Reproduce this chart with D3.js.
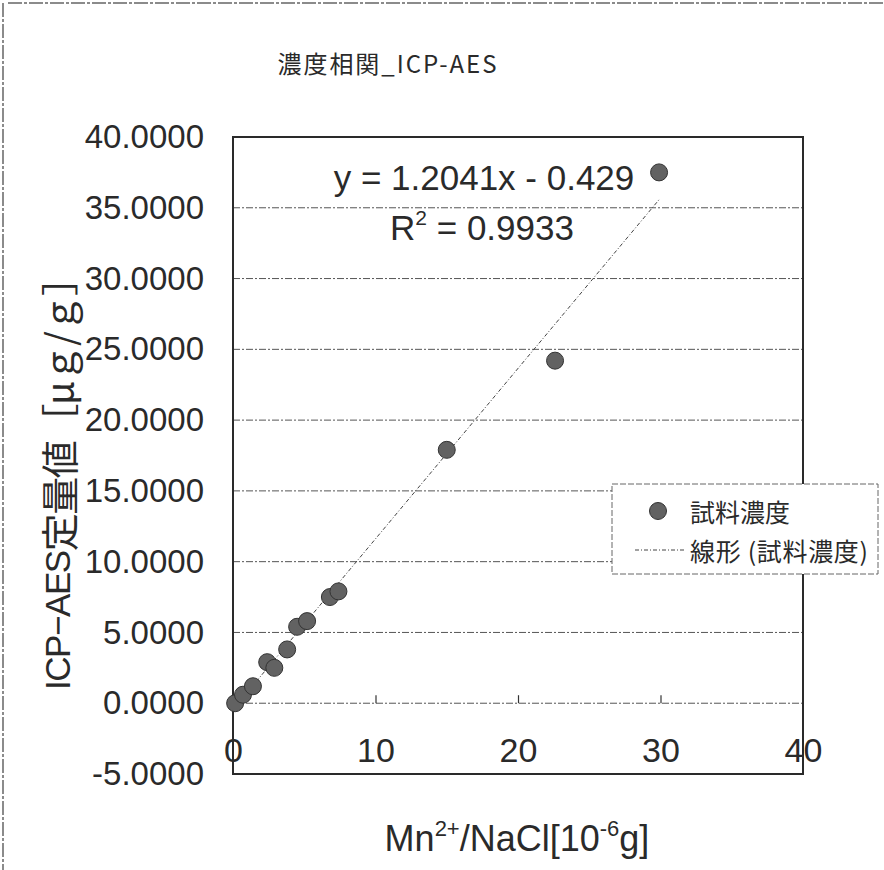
<!DOCTYPE html>
<html>
<head>
<meta charset="utf-8">
<script src="https://cdn.jsdelivr.net/npm/d3@7"></script>
<style>
  body { margin: 0; background: #fff; }
  text { fill: #2a2a2a; }
</style>
</head>
<body>
<div id="chart"></div>
<script>
// sample points
var xVals = [0.15, 0.7, 1.4, 2.4, 2.9, 3.8, 4.5, 5.2, 6.8, 7.4, 15.0, 22.6, 29.9];
var yVals = [0.0, 0.6, 1.2, 2.9, 2.5, 3.8, 5.4, 5.8, 7.5, 7.9, 17.9, 24.2, 37.5];
// linear trendline as printed on the chart
var slope = 1.2041, intercept = -0.429;
var eqText = "y = 1.2041x - 0.429";
var r2Text = "0.9933";
var yTicks = [-5, 0, 5, 10, 15, 20, 25, 30, 35, 40];
var xTicks = [0, 10, 20, 30, 40];
var seriesName = "試料濃度";
var trendName = "線形 (試料濃度)";

var W = 884, H = 870;
var margin = {top: 137, right: 81, bottom: 96, left: 233};
var width = W - margin.left - margin.right,
    height = H - margin.top - margin.bottom;

var latin = "'Liberation Sans', Arial, sans-serif";
var cjk = "'Noto Sans CJK JP', 'Liberation Sans', sans-serif";

var root = d3.select("#chart").append("svg")
    .attr("width", W)
    .attr("height", H);

// scanned page edge (top and left)
root.append("line")
    .attr("x1", 8).attr("y1", 3).attr("x2", W).attr("y2", 3)
    .style("stroke", "#666").style("stroke-width", 1.5)
    .style("stroke-dasharray", "14,2,3,2");
root.append("line")
    .attr("x1", 3).attr("y1", 3).attr("x2", 3).attr("y2", H)
    .style("stroke", "#666").style("stroke-width", 1.5)
    .style("stroke-dasharray", "14,2,3,2");

// title
root.append("text")
    .attr("x", 387).attr("y", 62)
    .attr("text-anchor", "middle")
    .attr("dominant-baseline", "central")
    .attr("textLength", 219)
    .style("font-family", cjk)
    .style("font-size", "24px")
    .text("濃度相関_ICP-AES");

var svg = root.append("g")
    .attr("transform", "translate(" + margin.left + "," + margin.top + ")");

var x = d3.scaleLinear().domain([0, 40]).range([0, width]);
var y = d3.scaleLinear().domain([-5, 40]).range([height, 0]);

// grid lines (dash-dot)
svg.append("g")
    .selectAll("line")
    .data(yTicks.filter(function (d) { return d > -5 && d < 40; }))
    .enter()
    .append("line")
    .attr("x1", 0).attr("x2", width)
    .attr("y1", function (d) { return y(d); })
    .attr("y2", function (d) { return y(d); })
    .style("stroke", "#555")
    .style("stroke-width", 1)
    .style("stroke-dasharray", "7,2,2,2");

// Y axis labels (plain hyphen for the minus sign, as in the original)
var yAxis = svg.append("g")
    .call(d3.axisLeft(y).tickValues(yTicks)
        .tickFormat(function (d) { return d.toFixed(4); })
        .tickSize(0).tickPadding(29));
yAxis.select(".domain").remove();
yAxis.selectAll("text")
    .style("font-family", latin)
    .style("font-size", "33px")
    .style("fill", "#2a2a2a");

// X axis sits on y = 0, ticks point upward, labels below
var xAxis = svg.append("g")
    .attr("transform", "translate(0," + y(0) + ")")
    .call(d3.axisBottom(x).tickValues(xTicks).tickSizeInner(-8).tickSizeOuter(0).tickPadding(35));
xAxis.select(".domain").remove();
xAxis.selectAll(".tick line")
    .style("stroke", "#333")
    .style("stroke-width", 1.2)
    .style("opacity", function (d) { return (d === 0 || d === 40) ? 0 : 1; });
xAxis.selectAll("text")
    .style("font-family", latin)
    .style("font-size", "34px")
    .style("fill", "#2a2a2a");

// plot frame
svg.append("rect")
    .attr("x", 0).attr("y", 0)
    .attr("width", width).attr("height", height)
    .style("fill", "none")
    .style("stroke", "#2a2a2a")
    .style("stroke-width", 2);

// trendline over the data range
var xExt = d3.extent(xVals);
var x0 = 0, x1 = xExt[1];
svg.append("line")
    .attr("x1", x(x0)).attr("y1", y(slope * x0 + intercept))
    .attr("x2", x(x1)).attr("y2", y(slope * x1 + intercept))
    .style("stroke", "#444")
    .style("stroke-width", 1)
    .style("stroke-dasharray", "4,2,1,2");

// points
svg.append("g")
    .selectAll("circle")
    .data(xVals)
    .enter()
    .append("circle")
    .attr("cx", function (d) { return x(d); })
    .attr("cy", function (d, i) { return y(yVals[i]); })
    .attr("r", 8.5)
    .style("fill", "#626262")
    .style("stroke", "#333")
    .style("stroke-width", 1);

// equation labels
svg.append("text")
    .attr("x", 251).attr("y", 53)
    .attr("text-anchor", "middle")
    .style("font-family", latin)
    .style("font-size", "35px")
    .text(eqText);
var r2 = svg.append("text")
    .attr("x", 249).attr("y", 103)
    .attr("text-anchor", "middle")
    .style("font-family", latin)
    .style("font-size", "35px");
r2.append("tspan").text("R");
r2.append("tspan").attr("dy", -15).style("font-size", "21px").text("2");
r2.append("tspan").attr("dy", 15).text(" = " + r2Text);

// legend
var legend = root.append("g").attr("transform", "translate(612,484)");
legend.append("rect")
    .attr("width", 266).attr("height", 90)
    .style("fill", "#fff")
    .style("stroke", "#666")
    .style("stroke-width", 1)
    .style("stroke-dasharray", "6,2");
legend.append("circle")
    .attr("cx", 46).attr("cy", 27).attr("r", 8.5)
    .style("fill", "#626262").style("stroke", "#333");
legend.append("text")
    .attr("x", 78).attr("y", 27)
    .attr("dominant-baseline", "central")
    .style("font-family", cjk).style("font-size", "25px")
    .text(seriesName);
legend.append("line")
    .attr("x1", 23).attr("x2", 74).attr("y1", 66).attr("y2", 66)
    .style("stroke", "#444").style("stroke-dasharray", "4,2,1,2");
legend.append("text")
    .attr("x", 78).attr("y", 66)
    .attr("dominant-baseline", "central")
    .attr("textLength", 178)
    .style("font-family", cjk).style("font-size", "25px")
    .text(trendName);

// axis titles
var yt = root.append("text")
    .attr("transform", "translate(57,474) rotate(-90)")
    .attr("text-anchor", "middle")
    .attr("dominant-baseline", "central")
    .attr("textLength", 432)
    .attr("lengthAdjust", "spacing")
    .style("font-size", "35px");
yt.append("tspan").style("font-family", latin).text("ICP−AES");
yt.append("tspan").style("font-family", cjk).style("font-size", "38px").text("定量値［μｇ/ｇ］");

var xt = root.append("text")
    .attr("x", 517).attr("y", 851)
    .attr("text-anchor", "middle")
    .style("font-family", latin)
    .style("font-size", "36px");
xt.append("tspan").text("Mn");
xt.append("tspan").attr("dy", -15).style("font-size", "22px").text("2+");
xt.append("tspan").attr("dy", 15).text("/NaCl[10");
xt.append("tspan").attr("dy", -15).style("font-size", "22px").text("-6");
xt.append("tspan").attr("dy", 15).text("g]");
</script>
</body>
</html>
